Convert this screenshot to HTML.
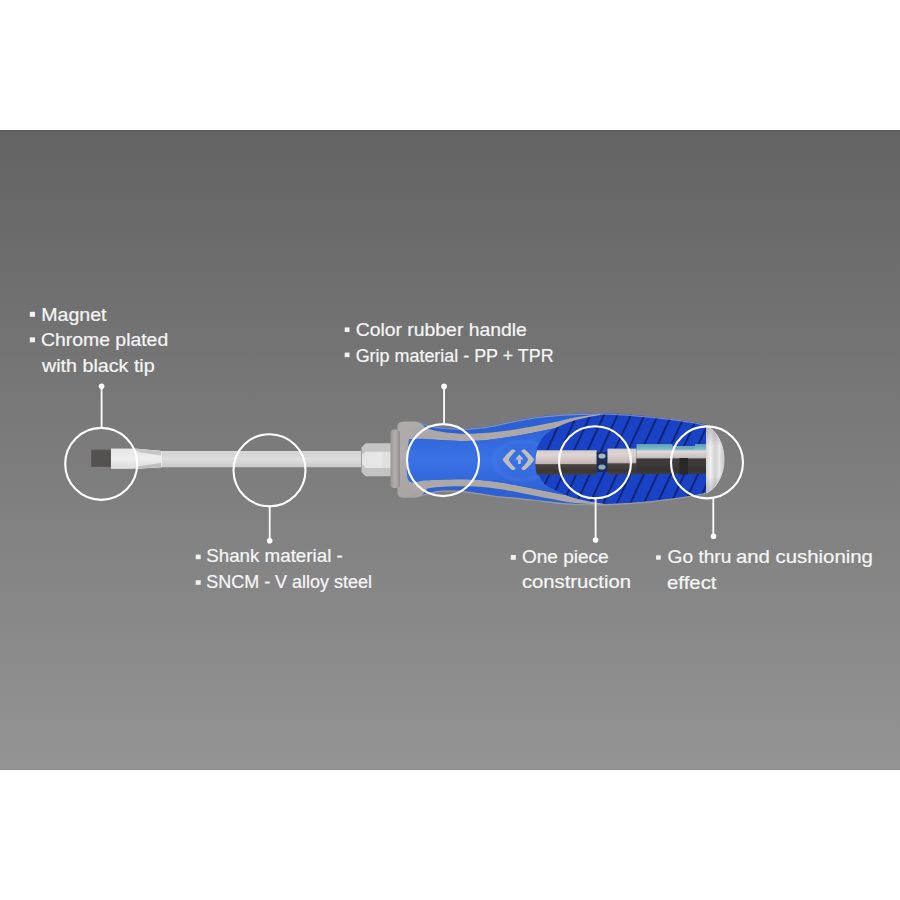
<!DOCTYPE html>
<html><head><meta charset="utf-8">
<style>
html,body{margin:0;padding:0;background:#fff;width:900px;height:900px;overflow:hidden}
svg{display:block}
text{font-family:"Liberation Sans",sans-serif;fill:#f6f6f6;stroke:#f6f6f6;stroke-width:0.2px}
</style></head><body>
<svg width="900" height="900" viewBox="0 0 900 900">
<defs>
<linearGradient id="bg" x1="0" y1="0" x2="0" y2="1">
<stop offset="0" stop-color="#636363"/>
<stop offset="1" stop-color="#949494"/>
</linearGradient>
<linearGradient id="blade" x1="0" y1="0" x2="0" y2="1">
<stop offset="0" stop-color="#e6e6e6"/>
<stop offset="0.5" stop-color="#eeeeee"/>
<stop offset="1" stop-color="#dcdcdc"/>
</linearGradient>
<linearGradient id="shank" x1="0" y1="0" x2="0" y2="1">
<stop offset="0" stop-color="#dadada"/>
<stop offset="0.3" stop-color="#d4d4d4"/>
<stop offset="0.5" stop-color="#dedede"/>
<stop offset="1" stop-color="#c6c6c6"/>
</linearGradient>
<linearGradient id="ring" x1="0" y1="0" x2="1" y2="0">
<stop offset="0" stop-color="#989593"/>
<stop offset="0.5" stop-color="#b3b0ae"/>
<stop offset="1" stop-color="#9a9795"/>
</linearGradient>
<linearGradient id="collar" x1="0" y1="0" x2="0" y2="1">
<stop offset="0" stop-color="#aeaaa9"/>
<stop offset="0.5" stop-color="#b0acab"/>
<stop offset="1" stop-color="#a8a4a3"/>
</linearGradient>
<linearGradient id="blue" x1="0" y1="0" x2="0" y2="1">
<stop offset="0" stop-color="#2b5fd4"/>
<stop offset="0.5" stop-color="#3a72e6"/>
<stop offset="1" stop-color="#2a5ccf"/>
</linearGradient>
<pattern id="hatch" patternUnits="userSpaceOnUse" width="13.5" height="200" patternTransform="translate(540 0) skewX(-25)">
<rect width="13.5" height="200" fill="#1943c4"/>
<rect x="0" width="2.1" height="200" fill="#0e2276"/>
</pattern>
<linearGradient id="metalA" x1="0" y1="0" x2="0" y2="1">
<stop offset="0" stop-color="#cfc8c4"/>
<stop offset="0.18" stop-color="#ddd6d2"/>
<stop offset="0.45" stop-color="#cdbfbd"/>
<stop offset="0.56" stop-color="#bfb0b0"/>
<stop offset="0.585" stop-color="#4a4341"/>
<stop offset="0.85" stop-color="#3a3634"/>
<stop offset="1" stop-color="#45403e"/>
</linearGradient>
<linearGradient id="metalC" x1="0" y1="0" x2="0" y2="1">
<stop offset="0" stop-color="#5a9cb8"/>
<stop offset="0.2" stop-color="#8cc0cc"/>
<stop offset="0.23" stop-color="#e2dcdc"/>
<stop offset="0.45" stop-color="#c8bebe"/>
<stop offset="0.5" stop-color="#403c3a"/>
<stop offset="0.9" stop-color="#363432"/>
<stop offset="1" stop-color="#3e3a38"/>
</linearGradient>
<linearGradient id="capg" x1="0" y1="0" x2="0" y2="1">
<stop offset="0" stop-color="#9c9c9c"/>
<stop offset="0.35" stop-color="#d8d8d8"/>
<stop offset="0.55" stop-color="#ececec"/>
<stop offset="1" stop-color="#a6a6a6"/>
</linearGradient>
<radialGradient id="logohl" cx="0.5" cy="0.5" r="0.5">
<stop offset="0.6" stop-color="#3a70e0" stop-opacity="0"/>
<stop offset="0.85" stop-color="#5a88ec" stop-opacity="0.25"/>
<stop offset="1" stop-color="#3a70e0" stop-opacity="0"/>
</radialGradient>
<linearGradient id="caph" x1="0" y1="0" x2="1" y2="0">
<stop offset="0" stop-color="#d4d4d4"/>
<stop offset="0.25" stop-color="#f0f0f0"/>
<stop offset="0.5" stop-color="#d0d0d0"/>
<stop offset="0.75" stop-color="#e8e8e8"/>
<stop offset="1" stop-color="#c4c4c4"/>
</linearGradient>
<linearGradient id="capv" x1="0" y1="0" x2="0" y2="1">
<stop offset="0" stop-color="#808080" stop-opacity="0.45"/>
<stop offset="0.3" stop-color="#808080" stop-opacity="0"/>
<stop offset="0.75" stop-color="#808080" stop-opacity="0"/>
<stop offset="1" stop-color="#808080" stop-opacity="0.4"/>
</linearGradient>
</defs>

<rect x="0" y="130" width="900" height="640" fill="url(#bg)"/>
<rect x="0" y="130" width="900" height="1" fill="#5c5c5c"/>
<rect x="0" y="769" width="900" height="1" fill="#8a8a8a"/>

<!-- tip & shank -->
<rect x="91.3" y="449.8" width="19.5" height="17" fill="#555151"/>
<rect x="91.3" y="449" width="19.5" height="1.2" fill="#6e6c6c"/>
<path d="M111 448.7 L137 448.7 L162 451 L361 451 L361 467.2 L162 467.2 L137 468.8 L111 468.8 Z" fill="url(#shank)"/>
<path d="M111 448.7 L137 448.7 L162 451 L162 467.2 L137 468.8 L111 468.8 Z" fill="url(#blade)"/>
<path d="M132 448.7 L161 451 L161 455.5 L140 452.5 Z" fill="#c6c6c6"/>
<path d="M132 468.8 L161 467 L161 463 L140 466 Z" fill="#bebebe"/>

<!-- hex bolster -->
<path d="M361.5 447.5 L365.5 443.2 L392 443.2 L392 476.3 L365.5 476.3 L361.5 472 Z" fill="#c4c4c4"/>
<path d="M362 455 L366 451.8 L392 451.8 L392 468 L366 468 L362 464.5 Z" fill="#e6e6e6"/>
<rect x="382" y="451.8" width="10" height="16.2" fill="#dcdcdc" opacity="0.6"/>

<!-- handle outer body -->
<path d="M417.00 422.00 C418.33 422.33 421.50 423.20 425.00 424.00 C428.50 424.80 432.50 426.08 438.00 426.80 C443.50 427.52 451.83 428.13 458.00 428.30 C464.17 428.47 468.83 428.35 475.00 427.80 C481.17 427.25 488.33 426.22 495.00 425.00 C501.67 423.78 508.33 421.83 515.00 420.50 C521.67 419.17 528.33 417.92 535.00 417.00 C541.67 416.08 548.33 415.53 555.00 415.00 C561.67 414.47 565.83 414.05 575.00 413.80 C584.17 413.55 597.50 413.05 610.00 413.50 C622.50 413.95 636.67 415.17 650.00 416.50 C663.33 417.83 680.50 420.08 690.00 421.50 C699.50 422.92 704.17 424.42 707.00 425.00 L707.00 492.50 C704.17 493.05 699.50 494.38 690.00 495.80 C680.50 497.22 663.33 499.67 650.00 501.00 C636.67 502.33 622.50 503.35 610.00 503.80 C597.50 504.25 584.17 504.00 575.00 503.70 C565.83 503.40 561.67 502.67 555.00 502.00 C548.33 501.33 541.67 500.45 535.00 499.70 C528.33 498.95 521.67 498.17 515.00 497.50 C508.33 496.83 501.67 496.53 495.00 495.70 C488.33 494.87 481.17 493.37 475.00 492.50 C468.83 491.63 463.83 490.82 458.00 490.50 C452.17 490.18 444.67 490.30 440.00 490.60 C435.33 490.90 433.33 491.52 430.00 492.30 C426.67 493.08 422.33 494.52 420.00 495.30 C417.67 496.08 416.67 496.72 416.00 497.00 Z" fill="#2d60d2"/>
<!-- collar -->
<path d="M397.5 425 C398.5 422 402 421.4 406 421.4 L414 421.4 C418 421.4 421 423 424 426 L427 430 L427 489 L423 494 C420 497 417 497.8 412 497.8 L405 497.8 C400 497.8 398 496.5 397.5 494 Z" fill="url(#collar)"/>
<rect x="390.5" y="429.5" width="8.8" height="58.5" rx="3.5" fill="url(#ring)"/>
<rect x="398.6" y="431" width="1.3" height="55.5" fill="#8e8a89" opacity="0.8"/>

<!-- top gray stripe -->
<path d="M412.00 426.00 C414.17 426.33 420.67 427.12 425.00 428.00 C429.33 428.88 432.17 430.33 438.00 431.30 C443.83 432.27 453.00 433.47 460.00 433.80 C467.00 434.13 474.17 433.60 480.00 433.30 C485.83 433.00 489.17 432.63 495.00 432.00 C500.83 431.37 508.33 430.50 515.00 429.50 C521.67 428.50 528.33 427.25 535.00 426.00 C541.67 424.75 548.33 423.42 555.00 422.00 C561.67 420.58 567.50 418.83 575.00 417.50 C582.50 416.17 595.83 414.58 600.00 414.00 L600.00 418.00 C595.83 418.95 582.50 422.03 575.00 423.70 C567.50 425.37 561.67 426.57 555.00 428.00 C548.33 429.43 541.67 430.97 535.00 432.30 C528.33 433.63 521.67 434.88 515.00 436.00 C508.33 437.12 500.83 438.25 495.00 439.00 C489.17 439.75 485.83 440.17 480.00 440.50 C474.17 440.83 466.67 441.08 460.00 441.00 C453.33 440.92 445.83 440.35 440.00 440.00 C434.17 439.65 429.67 439.13 425.00 438.90 C420.33 438.67 414.17 438.65 412.00 438.60 Z" fill="#aca8a7"/>
<!-- bottom gray stripe -->
<path d="M412.00 481.00 C414.17 480.90 420.33 480.60 425.00 480.40 C429.67 480.20 434.50 479.98 440.00 479.80 C445.50 479.62 452.17 479.30 458.00 479.30 C463.83 479.30 468.83 479.40 475.00 479.80 C481.17 480.20 488.33 480.83 495.00 481.70 C501.67 482.57 508.33 483.78 515.00 485.00 C521.67 486.22 528.33 487.67 535.00 489.00 C541.67 490.33 548.33 491.67 555.00 493.00 C561.67 494.33 566.83 495.33 575.00 497.00 C583.17 498.67 599.17 502.00 604.00 503.00 L604.00 504.50 C599.17 504.25 583.17 503.83 575.00 503.00 C566.83 502.17 561.67 500.72 555.00 499.50 C548.33 498.28 541.67 496.98 535.00 495.70 C528.33 494.42 521.67 493.00 515.00 491.80 C508.33 490.60 501.67 489.38 495.00 488.50 C488.33 487.62 481.17 486.87 475.00 486.50 C468.83 486.13 463.83 486.22 458.00 486.30 C452.17 486.38 445.50 486.62 440.00 487.00 C434.50 487.38 429.67 488.10 425.00 488.60 C420.33 489.10 414.17 489.77 412.00 490.00 Z" fill="#aca8a7"/>
<!-- inner blue -->
<path d="M409.00 439.00 C411.67 438.98 419.83 438.73 425.00 438.90 C430.17 439.07 434.17 439.65 440.00 440.00 C445.83 440.35 453.33 440.92 460.00 441.00 C466.67 441.08 474.17 440.83 480.00 440.50 C485.83 440.17 489.17 439.75 495.00 439.00 C500.83 438.25 508.33 437.12 515.00 436.00 C521.67 434.88 528.33 433.63 535.00 432.30 C541.67 430.97 548.33 429.43 555.00 428.00 C561.67 426.57 567.50 425.37 575.00 423.70 C582.50 422.03 595.83 418.95 600.00 418.00 L604.00 503.00 C599.17 502.00 583.17 498.67 575.00 497.00 C566.83 495.33 561.67 494.33 555.00 493.00 C548.33 491.67 541.67 490.33 535.00 489.00 C528.33 487.67 521.67 486.22 515.00 485.00 C508.33 483.78 501.67 482.57 495.00 481.70 C488.33 480.83 481.17 480.20 475.00 479.80 C468.83 479.40 463.83 479.30 458.00 479.30 C452.17 479.30 445.50 479.62 440.00 479.80 C434.50 479.98 430.17 480.20 425.00 480.40 C419.83 480.60 412.03 484.40 409.00 481.00 C405.97 477.60 406.80 467.00 406.80 460.00 C406.80 453.00 408.63 442.50 409.00 439.00 Z" fill="url(#blue)"/>
<!-- logo highlight -->
<ellipse cx="522" cy="460.5" rx="33" ry="23" fill="url(#logohl)"/>

<!-- logo -->
<g fill="#c4bebb">
<path d="M512 449.6 C508 453 505 456 502.6 459.8 C505 463.5 508 466.5 512 470 C513.5 470.3 515.5 469.5 515.5 468.3 C512.5 465.5 510 462.5 508.6 459.8 C510 457 512.5 454 515.5 451.3 C515.5 450 513.5 449.3 512 449.6 Z"/>
<path d="M524.8 449.6 C528.8 453 531.8 456 534.2 459.8 C531.8 463.5 528.8 466.5 524.8 470 C523.3 470.3 521.3 469.5 521.3 468.3 C524.3 465.5 526.8 462.5 528.2 459.8 C526.8 457 524.3 454 521.3 451.3 C521.3 450 523.3 449.3 524.8 449.6 Z"/>
<path d="M519.4 454.6 L523.6 459.2 L521 459.6 L520.6 464 L518.2 464 L517.8 459.6 L515.2 459.2 Z" fill="#b8c8e0"/>
</g>
<circle cx="519.4" cy="459" r="1.6" fill="#d8a8a0"/>

<!-- cutaway -->
<path d="M535.00 459.70 C535.42 457.58 536.00 450.95 537.50 447.00 C539.00 443.05 541.08 439.12 544.00 436.00 C546.92 432.88 549.83 430.92 555.00 428.30 C560.17 425.68 567.50 422.52 575.00 420.30 C582.50 418.08 593.83 416.12 600.00 415.00 C606.17 413.88 603.67 413.35 612.00 413.60 C620.33 413.85 637.00 415.18 650.00 416.50 C663.00 417.82 680.50 420.08 690.00 421.50 C699.50 422.92 704.17 424.42 707.00 425.00 L707.00 492.50 C704.17 493.05 699.50 494.38 690.00 495.80 C680.50 497.22 663.00 499.70 650.00 501.00 C637.00 502.30 620.33 503.23 612.00 503.60 C603.67 503.97 606.17 504.08 600.00 503.20 C593.83 502.32 582.50 500.45 575.00 498.30 C567.50 496.15 560.17 492.77 555.00 490.30 C549.83 487.83 546.92 486.47 544.00 483.50 C541.08 480.53 539.00 476.47 537.50 472.50 C536.00 468.53 535.42 461.83 535.00 459.70 Z" fill="url(#hatch)"/>
<path d="M419.00 422.60 C420.00 422.97 421.83 423.97 425.00 424.80 C428.17 425.63 432.50 426.88 438.00 427.60 C443.50 428.32 451.83 428.93 458.00 429.10 C464.17 429.27 468.83 429.15 475.00 428.60 C481.17 428.05 488.33 427.02 495.00 425.80 C501.67 424.58 508.33 422.63 515.00 421.30 C521.67 419.97 528.33 418.72 535.00 417.80 C541.67 416.88 548.33 416.33 555.00 415.80 C561.67 415.27 565.83 414.87 575.00 414.60 C584.17 414.33 597.50 413.77 610.00 414.20 C622.50 414.63 636.67 415.87 650.00 417.20 C663.33 418.53 680.67 420.80 690.00 422.20 C699.33 423.60 703.33 425.03 706.00 425.60" fill="none" stroke="#a4a4b8" stroke-width="1.2" opacity="0.7"/>
<path d="M419.00 496.20 C420.83 495.68 426.50 493.90 430.00 493.10 C433.50 492.30 435.33 491.70 440.00 491.40 C444.67 491.10 452.17 490.98 458.00 491.30 C463.83 491.62 468.83 492.43 475.00 493.30 C481.17 494.17 488.33 495.67 495.00 496.50 C501.67 497.33 508.33 497.63 515.00 498.30 C521.67 498.97 528.33 499.75 535.00 500.50 C541.67 501.25 548.33 502.13 555.00 502.80 C561.67 503.47 565.83 504.20 575.00 504.50 C584.17 504.80 597.50 505.05 610.00 504.60 C622.50 504.15 636.67 503.15 650.00 501.80 C663.33 500.45 680.67 497.93 690.00 496.50 C699.33 495.07 703.33 493.75 706.00 493.20" fill="none" stroke="#a4a4b8" stroke-width="1.2" opacity="0.7"/>

<!-- inner shaft -->
<path d="M537 450.2 L596.7 450.2 L596.7 474.8 L537 474.8 C535 468 534.6 458 537 450.2 Z" fill="url(#metalA)"/>
<rect x="596.7" y="452" width="10.8" height="20" fill="#202c4c"/>
<ellipse cx="602" cy="456" rx="3.6" ry="2.6" fill="#9cbccc"/>
<ellipse cx="602" cy="467" rx="3.6" ry="2.6" fill="#8aacc0"/>
<rect x="607.5" y="448.6" width="29" height="25.8" fill="url(#metalA)"/>
<rect x="636.5" y="444" width="36" height="30" fill="url(#metalC)"/>
<path d="M672.5 446 L695 446 L695 444 L706 444 L706 474 L672.5 474 Z" fill="url(#metalC)"/>
<rect x="679.5" y="458" width="8.5" height="16.5" fill="#2a2826"/>
<rect x="672.5" y="446" width="22" height="3" fill="#6aa0b4" opacity="0.6"/>

<!-- end cap -->
<path d="M706 426 C717 430 724 445 724 459.5 C724 474 717 489 706 493 Z" fill="url(#caph)"/>
<path d="M706 426 C717 430 724 445 724 459.5 C724 474 717 489 706 493 Z" fill="url(#capv)"/>
<path d="M706 426 C717 430 724 445 724 459.5 C724 474 717 489 706 493" fill="none" stroke="#d8d8d8" stroke-width="1"/>

<!-- callouts -->
<g fill="none" stroke="#ffffff" stroke-width="2.1">
<circle cx="101.2" cy="463.9" r="36"/>
<circle cx="269.5" cy="470.2" r="36"/>
<circle cx="443" cy="460.1" r="36"/>
<circle cx="595" cy="462.3" r="36"/>
<circle cx="707" cy="462.4" r="36"/>
</g>
<g stroke="#ffffff" stroke-width="1.8">
<line x1="101.6" y1="386" x2="101.6" y2="428"/>
<line x1="444.1" y1="386" x2="444.1" y2="424"/>
<line x1="269.7" y1="505" x2="269.7" y2="540.5"/>
<line x1="595.6" y1="497.5" x2="595.6" y2="540"/>
<line x1="713.3" y1="497.5" x2="713.3" y2="536.5"/>
</g>
<g fill="#ffffff">
<circle cx="101.6" cy="386.3" r="2.8"/>
<circle cx="444.1" cy="386.4" r="2.8"/>
<circle cx="269.7" cy="540.7" r="2.8"/>
<circle cx="595.6" cy="540" r="2.8"/>
<circle cx="713.5" cy="536.3" r="2.8"/>
</g>

<!-- bullets -->
<g fill="#f2f2f2">
<rect x="29.8" y="311.8" width="5.2" height="5"/>
<rect x="29.8" y="337.3" width="5.2" height="5"/>
<rect x="344.7" y="327.4" width="4.8" height="4.6"/>
<rect x="344.7" y="352.6" width="4.8" height="4.6"/>
<rect x="195.7" y="554.6" width="5" height="4.6"/>
<rect x="195.7" y="580.2" width="5" height="4.6"/>
<rect x="510.8" y="555" width="5" height="4.8"/>
<rect x="656.1" y="555.3" width="4.6" height="4.4"/>
</g>

<text x="41.20" y="320.60" font-size="17.5" textLength="65.30" lengthAdjust="spacingAndGlyphs">Magnet</text>
<text x="41.00" y="346.00" font-size="17.5" textLength="127.20" lengthAdjust="spacingAndGlyphs">Chrome plated</text>
<text x="42.00" y="371.70" font-size="17.5" textLength="112.70" lengthAdjust="spacingAndGlyphs">with black tip</text>
<text x="355.70" y="336.20" font-size="17.5" textLength="171.20" lengthAdjust="spacingAndGlyphs">Color rubber handle</text>
<text x="355.70" y="361.50" font-size="17.5" textLength="198.00" lengthAdjust="spacingAndGlyphs">Grip material - PP + TPR</text>
<text x="206.20" y="562.30" font-size="17.5" textLength="136.60" lengthAdjust="spacingAndGlyphs">Shank material -</text>
<text x="206.20" y="587.90" font-size="17.5" textLength="165.90" lengthAdjust="spacingAndGlyphs">SNCM - V alloy steel</text>
<text x="521.90" y="562.90" font-size="17.5" textLength="86.80" lengthAdjust="spacingAndGlyphs">One piece</text>
<text x="521.90" y="588.20" font-size="17.5" textLength="109.10" lengthAdjust="spacingAndGlyphs">construction</text>
<text x="667.60" y="563.30" font-size="17.5" textLength="63.80" lengthAdjust="spacingAndGlyphs">Go thru</text>
<text x="735.90" y="563.20" font-size="18.5" textLength="137.00" lengthAdjust="spacingAndGlyphs">and cushioning</text>
<text x="667.00" y="588.70" font-size="18.5" textLength="49.50" lengthAdjust="spacingAndGlyphs">effect</text>
</svg>
</body></html>
